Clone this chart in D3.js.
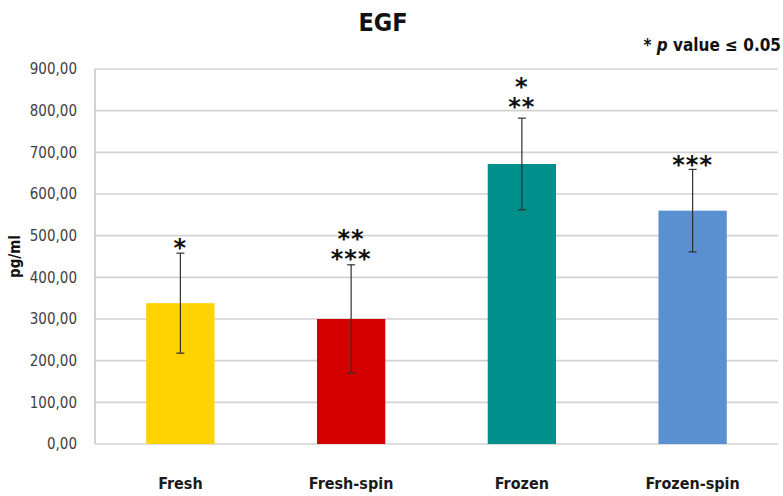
<!DOCTYPE html>
<html>
<head>
<meta charset="utf-8">
<script src="https://cdn.jsdelivr.net/npm/d3@7"></script>
<style>
  body { margin:0; background:#fff; }
  text { font-family: "DejaVu Sans Condensed", "DejaVu Sans", sans-serif; font-stretch: condensed; }
</style>
</head>
<body>
<div class="Graph"></div>
<script>
// data
const categories = ["Fresh", "Fresh-spin", "Frozen", "Frozen-spin"];
const means = [338, 300, 672, 560];
const errs = [120, 130, 110, 99];
const colors = ["#FFD200", "#D40000", "#008F8A", "#5A8FD0"];
const stars = [["*"], ["**", "***"], ["*", "**"], ["***"]];
const starGap = [10, 11, 16, 9];//px above the error cap
const yTicks = [0, 100, 200, 300, 400, 500, 600, 700, 800, 900];

const W = 783, H = 496;
const m = {left: 95, right: 5, top: 69, bottom: 52};

let svg = d3.select(".Graph")
    .append("svg")
    .attr("width", W)
    .attr("height", H);

let x = d3.scaleBand()
    .domain(categories)
    .range([m.left, W - m.right])
    .paddingInner(0.6)
    .paddingOuter(0.3);

let y = d3.scaleLinear()
    .domain([0, 900])
    .range([H - m.bottom, m.top]);

//gridlines
svg.append("g")
    .selectAll("line")
    .data(yTicks)
    .enter()
    .append("line")
    .attr("x1", m.left)
    .attr("x2", W - m.right)
    .attr("y1", d => y(d))
    .attr("y2", d => y(d))
    .attr("stroke", "#d2d2d2")
    .attr("stroke-width", 1.6);

svg.append("line")//left axis line
    .attr("x1", m.left).attr("x2", m.left)
    .attr("y1", y(900)).attr("y2", y(0))
    .attr("stroke", "#c8c8c8")
    .attr("stroke-width", 1.6);

//y tick labels
let yAxis = svg.append("g")
    .attr("transform", "translate(" + (m.left - 15) + ",0)")
    .call(d3.axisLeft(y).tickValues(yTicks).tickSize(0)
        .tickFormat(d => d3.format(".2f")(d).replace(".", ",")));
yAxis.select(".domain").remove();
yAxis.selectAll("text")
    .attr("font-size", 15)
    .attr("fill", "#404040")
    .style("font-family", "'DejaVu Sans Condensed', 'DejaVu Sans', sans-serif");

//bars
svg.selectAll(".bar")
    .data(means)
    .enter()
    .append("rect")
    .attr("class", "bar")
    .attr("x", (d, i) => x(categories[i]))
    .attr("width", x.bandwidth())
    .attr("y", d => y(d))
    .attr("height", d => y(0) - y(d))
    .attr("fill", (d, i) => colors[i]);

//error bars
let eb = svg.selectAll(".err")
    .data(means)
    .enter()
    .append("g")
    .attr("class", "err")
    .attr("stroke", "#303030")
    .attr("stroke-width", 1.2);
eb.append("line")
    .attr("x1", (d, i) => x(categories[i]) + x.bandwidth() / 2)
    .attr("x2", (d, i) => x(categories[i]) + x.bandwidth() / 2)
    .attr("y1", (d, i) => y(d + errs[i]))
    .attr("y2", (d, i) => y(d - errs[i]));
[1, -1].forEach(s => {
    eb.append("line")
        .attr("x1", (d, i) => x(categories[i]) + x.bandwidth() / 2 - 4)
        .attr("x2", (d, i) => x(categories[i]) + x.bandwidth() / 2 + 4)
        .attr("y1", (d, i) => y(d + s * errs[i]))
        .attr("y2", (d, i) => y(d + s * errs[i]));
});

//significance stars, stacked rows in one text
categories.forEach((c, i) => {
    let low = y(means[i] + errs[i]) - starGap[i];//centre of the lowest row
    let n = stars[i].length;
    let cx = x(c) + x.bandwidth() / 2;
    let t = svg.append("text")
        .attr("x", cx)
        .attr("y", low + 13 - (n - 1) * 20)
        .attr("text-anchor", "middle")
        .attr("font-size", 24)
        .attr("font-weight", "bold")
        .attr("fill", "#111")
        .style("font-family", "'DejaVu Sans', sans-serif")
        .style("font-stretch", "normal")
        .style("letter-spacing", "1px");
    stars[i].forEach((s, j) => {
        t.append("tspan")
            .attr("x", cx)
            .attr("dy", j == 0 ? 0 : 20)
            .text(s);
    });
});

//category labels
svg.selectAll(".cat")
    .data(categories)
    .enter()
    .append("text")
    .attr("x", d => x(d) + x.bandwidth() / 2)
    .attr("y", 489)
    .attr("text-anchor", "middle")
    .attr("font-size", 16)
    .attr("font-weight", "bold")
    .attr("fill", "#1a1a1a")
    .text(d => d);

svg.append("text")//title
    .attr("x", 383)
    .attr("y", 31)
    .attr("text-anchor", "middle")
    .attr("font-size", 25)
    .attr("font-weight", "bold")
    .attr("fill", "#111")
    .text("EGF");

let note = svg.append("text")//p value note
    .attr("x", 781)
    .attr("y", 51)
    .attr("text-anchor", "end")
    .attr("font-size", 17)
    .attr("font-weight", "bold")
    .attr("fill", "#111");
note.append("tspan").text("* ");
note.append("tspan").attr("font-style", "italic").text("p");
note.append("tspan").text(" value \u2264 0.05");

svg.append("text")//y label
    .attr("transform", "translate(20," + y(450) + ") rotate(-90)")
    .attr("text-anchor", "middle")
    .attr("font-size", 15)
    .attr("font-weight", "bold")
    .attr("fill", "#111")
    .text("pg/ml");
</script>
</body>
</html>
